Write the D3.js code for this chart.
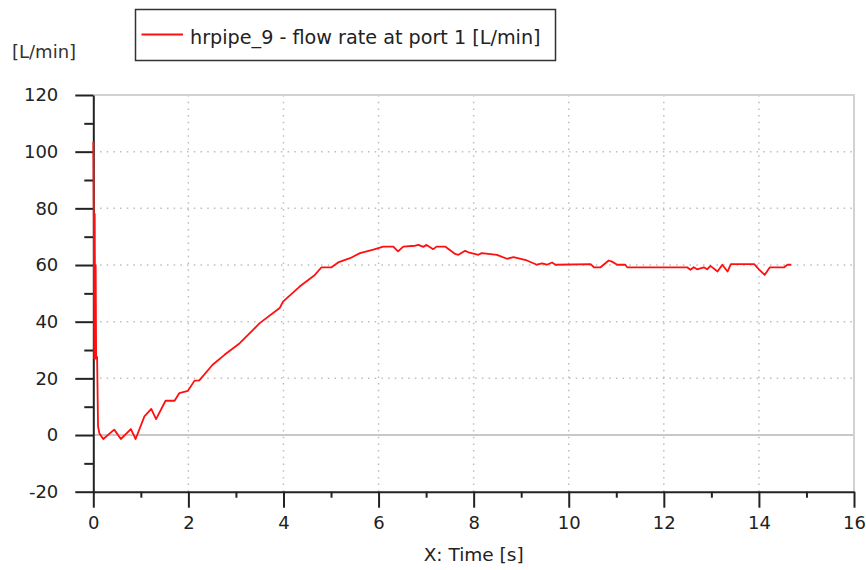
<!DOCTYPE html>
<html>
<head>
<meta charset="utf-8">
<script src="https://cdn.jsdelivr.net/npm/d3@7"></script>
<style>
body { margin: 0; background: #fff; }
svg { display: block; font-family: "DejaVu Sans", sans-serif; }
</style>
</head>
<body>
<svg id="drawing_region"></svg>
<script>
// time [s] and flow rate [L/min]
const times = [0, 0.01, 0.02, 0.03, 0.04, 0.05, 0.06, 0.08, 0.1, 0.13, 0.21, 0.44, 0.58, 0.79, 0.89,
    1.075, 1.22, 1.32, 1.52, 1.71, 1.81, 1.99, 2.13, 2.23, 2.51, 2.76, 3.08, 3.36, 3.5, 3.92, 3.99,
    4.34, 4.66, 4.80, 5.01, 5.15, 5.40, 5.61, 5.89, 6.10, 6.31, 6.41, 6.52, 6.77, 6.84, 6.94, 7.01,
    7.15, 7.22, 7.40, 7.61, 7.68, 7.82, 7.89, 8.10, 8.17, 8.49, 8.70, 8.84, 9.12, 9.33, 9.44, 9.54,
    9.65, 9.72, 10.46, 10.53, 10.67, 10.84, 10.91, 11.02, 11.19, 11.23, 12.49, 12.56, 12.63, 12.70,
    12.84, 12.91, 12.98, 13.13, 13.23, 13.34, 13.41, 13.90, 14.00, 14.12, 14.23, 14.53, 14.60, 14.68];
const flow = [103.5, 78, 27, 78, 27, 60, 27, 27.5, 3, 0.5, -1.4, 1.9, -1.4, 2.1, -1.4,
    6.6, 9.2, 5.6, 12.1, 12.1, 14.8, 15.6, 19.2, 19.3, 24.8, 28.3, 32.4, 37.1, 39.5, 44.8, 47.1,
    52.4, 56.5, 59.2, 59.2, 60.9, 62.4, 64.2, 65.4, 66.5, 66.5, 64.8, 66.5, 66.8, 67.1, 66.4, 67.1,
    65.6, 66.5, 66.5, 63.9, 63.6, 65, 64.5, 63.6, 64.2, 63.6, 62.2, 62.8, 61.6, 60.1, 60.6, 60.1,
    60.9, 60.1, 60.3, 59.2, 59.2, 61.6, 61.2, 60.1, 60.1, 59.2, 59.2, 58.3, 59.2, 58.5,
    59.2, 58.5, 59.7, 57.7, 60.1, 57.7, 60.3, 60.3, 58.5, 56.5, 59.2, 59.2, 60.1, 60.1];

const xTicks = [0, 2, 4, 6, 8, 10, 12, 14, 16];
const xMinorTicks = [1, 3, 5, 7, 9, 11, 13, 15];
const yTicks = [-20, 0, 20, 40, 60, 80, 100, 120];
const yMinorTicks = [-10, 10, 30, 50, 70, 90, 110];
const seriesName = 'hrpipe_9 - flow rate at port 1 [L/min]';

const data = times.map((t, i) => ({x: t, y: flow[i]}));

class LineChart {
    constructor(config, data) {
        this.config = config;
        this.data = data;
        this.init();
    }

    init() {
        let self = this;
        self.svg = d3.select(self.config.parent)
            .attr('width', self.config.width)
            .attr('height', self.config.height);

        self.inner_width = self.config.width - self.config.margin.left - self.config.margin.right;
        self.inner_height = self.config.height - self.config.margin.top - self.config.margin.bottom;

        self.chart = self.svg.append('g')
            .attr('transform', `translate(${self.config.margin.left}, ${self.config.margin.top})`);

        self.xscale = d3.scaleLinear().domain([0, 16]).range([0, self.inner_width]);
        self.yscale = d3.scaleLinear().domain([-20, 120]).range([self.inner_height, 0]);
    }

    render() {
        let self = this;
        const W = self.inner_width, H = self.inner_height;

        // dotted grid
        self.chart.selectAll('.vgrid')
            .data(xTicks.filter(d => d > 0 && d < 16))
            .join('line')
            .attr('x1', d => self.xscale(d)).attr('x2', d => self.xscale(d))
            .attr('y1', 0).attr('y2', H)
            .attr('stroke', '#bdbdbd').attr('stroke-width', 1.5)
            .attr('stroke-dasharray', '1.5,5.2');
        self.chart.selectAll('.hgrid')
            .data(yTicks.filter(d => d > 0 && d < 120))
            .join('line')
            .attr('x1', 0).attr('x2', W)
            .attr('y1', d => self.yscale(d)).attr('y2', d => self.yscale(d))
            .attr('stroke', '#bdbdbd').attr('stroke-width', 1.5)
            .attr('stroke-dasharray', '1.5,5.2');

        // zero line, top and right frame
        self.chart.append('line')
            .attr('x1', 0).attr('x2', W)
            .attr('y1', self.yscale(0)).attr('y2', self.yscale(0))
            .attr('stroke', '#c8c8c8').attr('stroke-width', 2);
        self.chart.append('path')
            .attr('d', `M0,${self.yscale(120)}H${self.xscale(16)}V${self.yscale(-20)}`)
            .attr('fill', 'none')
            .attr('stroke', '#d2d2d2').attr('stroke-width', 2);

        // minor ticks
        self.chart.append('g')
            .attr('transform', `translate(0, ${H})`)
            .call(d3.axisBottom(self.xscale).tickValues(xMinorTicks).tickSize(6).tickSizeOuter(0).tickFormat(''))
            .call(g => g.select('.domain').remove())
            .selectAll('line').attr('stroke', '#222').attr('stroke-width', 2);
        self.chart.append('g')
            .call(d3.axisLeft(self.yscale).tickValues(yMinorTicks).tickSize(9).tickSizeOuter(0).tickFormat(''))
            .call(g => g.select('.domain').remove())
            .selectAll('line').attr('stroke', '#222').attr('stroke-width', 2);

        // major axes
        const xaxis = d3.axisBottom(self.xscale).tickValues(xTicks).tickSize(16).tickSizeOuter(0).tickPadding(9)
            .tickFormat(d => String(d));
        const xg = self.chart.append('g')
            .attr('transform', `translate(0, ${H})`)
            .call(xaxis);
        xg.select('.domain').attr('stroke', '#222').attr('stroke-width', 2);
        xg.selectAll('line').attr('stroke', '#222').attr('stroke-width', 2);
        xg.selectAll('text').attr('font-size', '18px').attr('fill', '#222')
            .attr('font-family', '"DejaVu Sans", sans-serif');

        const yaxis = d3.axisLeft(self.yscale).tickValues(yTicks).tickSize(18).tickSizeOuter(0).tickPadding(17)
            .tickFormat(d => String(d));
        const yg = self.chart.append('g').call(yaxis);
        yg.select('.domain').attr('stroke', '#222').attr('stroke-width', 2);
        yg.selectAll('line').attr('stroke', '#222').attr('stroke-width', 2);
        yg.selectAll('text').attr('font-size', '18px').attr('fill', '#222')
            .attr('font-family', '"DejaVu Sans", sans-serif');

        // series
        const line = d3.line()
            .x(d => self.xscale(d.x))
            .y(d => self.yscale(d.y));
        self.chart.append('path')
            .attr('d', line(self.data))
            .attr('fill', 'none')
            .attr('stroke', '#ff1010')
            .attr('stroke-width', 1.8)
            .attr('stroke-linejoin', 'round');

        // unit label
        self.svg.append('text')
            .attr('x', 12).attr('y', 58)
            .style('font-size', '18px')
            .attr('fill', '#333')
            .text('[L/min]');

        // x axis title
        self.svg.append('text')
            .attr('x', self.config.margin.left + W / 2)
            .attr('y', 561)
            .attr('text-anchor', 'middle')
            .style('font-size', '18.5px')
            .attr('fill', '#222')
            .text('X: Time [s]');

        // legend
        const lg = self.svg.append('g');
        lg.append('rect')
            .attr('x', 135.5).attr('y', 9.5)
            .attr('width', 420).attr('height', 51)
            .attr('fill', '#fff')
            .attr('stroke', '#333').attr('stroke-width', 1.5);
        lg.append('line')
            .attr('x1', 141.5).attr('x2', 183)
            .attr('y1', 34.5).attr('y2', 34.5)
            .attr('stroke', '#ff1010').attr('stroke-width', 2);
        lg.append('text')
            .attr('x', 190).attr('y', 44)
            .style('font-size', '19.2px')
            .attr('fill', '#222')
            .text(seriesName);
    }
}

const chart = new LineChart({
    parent: '#drawing_region',
    width: 866,
    height: 570,
    margin: {top: 95, right: 12, bottom: 78.3, left: 93.3}
}, data);
chart.render();
</script>
</body>
</html>
